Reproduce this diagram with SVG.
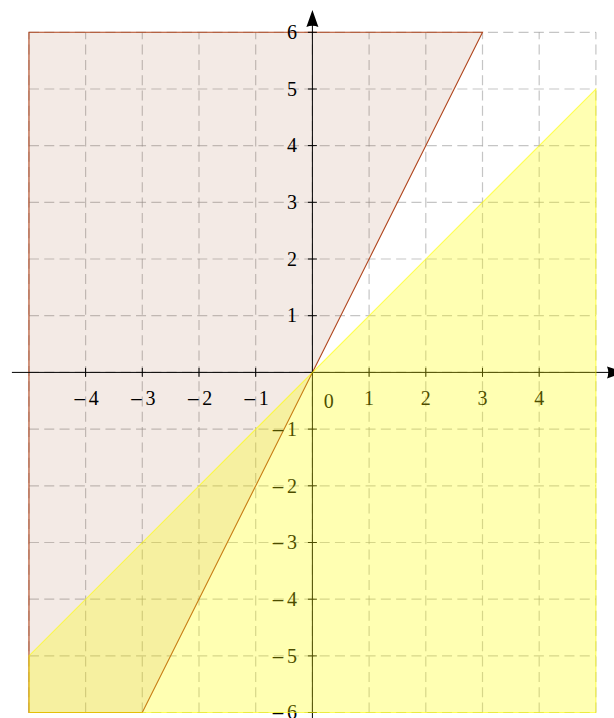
<svg xmlns="http://www.w3.org/2000/svg" width="614" height="718" viewBox="0 0 614 718">
<style>
.grid{fill:none;stroke:#8c8c8c;stroke-opacity:0.5;stroke-width:1.2;stroke-dasharray:10 5.3}
.axis{fill:none;stroke:#000;stroke-width:1}
.lbl{font-family:"Liberation Serif","DejaVu Serif",serif;font-size:20px;fill:#000}
.m{font-family:"DejaVu Serif",serif;font-size:17px}
.xl{text-anchor:middle}
.yl{text-anchor:end}
</style>
<rect width="614" height="718" fill="#fff"/>
<g id="grid" class="grid">
<path d="M28.95 712.5V32.3M85.6 712.5V32.3M142.3 712.5V32.3M199 712.5V32.3M255.7 712.5V32.3M312.4 712.5V32.3M369.1 712.5V32.3M425.8 712.5V32.3M482.5 712.5V32.3M539.2 712.5V32.3M595.9 712.5V32.3"/>
<path d="M28.95 712.5H595.9M28.95 655.9H595.9M28.95 599.2H595.9M28.95 542.5H595.9M28.95 485.8H595.9M28.95 429.1H595.9M28.95 372.4H595.9M28.95 315.7H595.9M28.95 259H595.9M28.95 202.3H595.9M28.95 145.6H595.9M28.95 89H595.9M28.95 32.3H595.9"/>
</g>
<g id="region-brown">
<path d="M28.95 32.3H482.5L312.4 372.4L142.3 712.5H28.95Z" fill="#a0522d" fill-opacity="0.12" stroke="#b0461e" stroke-width="1.1" stroke-linejoin="miter"/>
</g>
<g id="axes">
<path class="axis" d="M11.9 372.4H609"/>
<path d="M624 372.4L607 366.4Q609.5 372.4 607 378.4Z" fill="#000"/>
<path class="axis" d="M312.4 720V25"/>
<path d="M312.4 10L306.4 27Q312.4 24.5 318.4 27Z" fill="#000"/>
<path class="axis" d="M85.6 367.9v9M142.3 367.9v9M199 367.9v9M255.7 367.9v9M369.1 367.9v9M425.8 367.9v9M482.5 367.9v9M539.2 367.9v9"/>
<path class="axis" d="M307.9 32.3h9M307.9 89h9M307.9 145.6h9M307.9 202.3h9M307.9 259h9M307.9 315.7h9M307.9 429.1h9M307.9 485.8h9M307.9 542.5h9M307.9 599.2h9M307.9 655.9h9M307.9 712.5h9"/>
</g>
<g id="labels" class="lbl">
<text class="xl" x="85.6" y="404.5"><tspan class="m">−</tspan><tspan dx="2">4</tspan></text>
<text class="xl" x="142.3" y="404.5"><tspan class="m">−</tspan><tspan dx="2">3</tspan></text>
<text class="xl" x="199" y="404.5"><tspan class="m">−</tspan><tspan dx="2">2</tspan></text>
<text class="xl" x="255.7" y="404.5"><tspan class="m">−</tspan><tspan dx="2">1</tspan></text>
<text class="xl" x="328.7" y="408">0</text>
<text class="xl" x="369.1" y="404.5">1</text>
<text class="xl" x="425.8" y="404.5">2</text>
<text class="xl" x="482.5" y="404.5">3</text>
<text class="xl" x="539.2" y="404.5">4</text>
<text class="yl" x="297" y="39">6</text>
<text class="yl" x="297" y="95.7">5</text>
<text class="yl" x="297" y="152.3">4</text>
<text class="yl" x="297" y="209">3</text>
<text class="yl" x="297" y="265.7">2</text>
<text class="yl" x="297" y="322.4">1</text>
<text class="yl" x="297" y="435.8"><tspan class="m">−</tspan><tspan dx="2">1</tspan></text>
<text class="yl" x="297" y="492.5"><tspan class="m">−</tspan><tspan dx="2">2</tspan></text>
<text class="yl" x="297" y="549.2"><tspan class="m">−</tspan><tspan dx="2">3</tspan></text>
<text class="yl" x="297" y="605.9"><tspan class="m">−</tspan><tspan dx="2">4</tspan></text>
<text class="yl" x="297" y="662.6"><tspan class="m">−</tspan><tspan dx="2">5</tspan></text>
<text class="yl" x="297" y="719.2"><tspan class="m">−</tspan><tspan dx="2">6</tspan></text>
</g>
<g id="region-yellow">
<path d="M28.95 655.9L595.9 89V712.5H28.95Z" fill="#ffff00" fill-opacity="0.3" stroke="#ffff00" stroke-opacity="0.6" stroke-width="1.1"/>
</g>
</svg>
